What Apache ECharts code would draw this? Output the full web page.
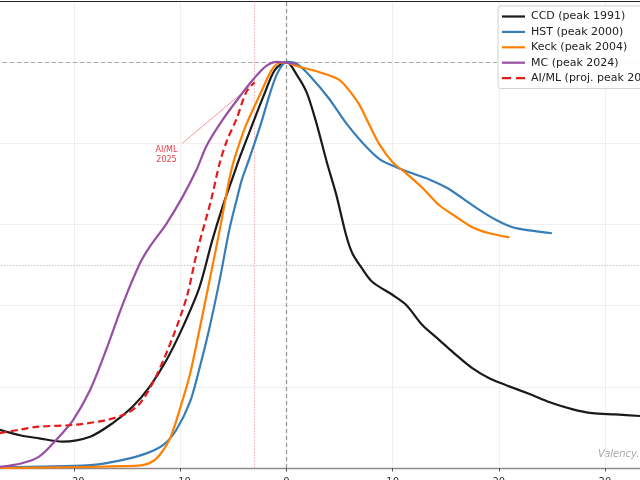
<!DOCTYPE html>
<html>
<head>
<meta charset="utf-8">
<script src="https://cdn.jsdelivr.net/npm/echarts@6/dist/echarts.min.js"></script>
<style>
  html, body { margin: 0; padding: 0; background: #fff; overflow: hidden; }
  /* the plot is cut on the left, so the canvas starts a bit off-screen */
  #chart { width: 672px; height: 480px; margin-left: -32px; }
</style>
</head>
<body>
<div id="chart"></div>
<script>
// years relative to peak, normalised share of papers
const ccdX = [-27, -25, -23.3, -21.1, -18.5, -16.4, -14.5, -12.9, -11.3, -9.8, -8.2, -7, -6, -5, -4.4, -3.3, -2.1, -1.1, 0, 1, 1.9, 2.8, 3.8, 4.7, 5.6, 6.2, 7.1, 8.1, 10, 11.3, 12.8, 14.4, 16, 17.5, 19.1, 20.7, 22.9, 24.8, 26.9, 28.8, 31, 33.3];
const ccdY = [0.094, 0.08, 0.073, 0.065, 0.077, 0.11, 0.151, 0.2, 0.266, 0.345, 0.445, 0.56, 0.645, 0.72, 0.765, 0.84, 0.92, 0.98, 1.0, 0.967, 0.925, 0.851, 0.753, 0.672, 0.575, 0.529, 0.492, 0.458, 0.426, 0.401, 0.352, 0.315, 0.278, 0.246, 0.221, 0.204, 0.182, 0.162, 0.145, 0.135, 0.132, 0.128];

const hstX = [-27, -18.5, -15.4, -13.2, -11.6, -10.4, -9.1, -8.2, -7.3, -6.3, -5.4, -4.7, -4.2, -3.5, -2.5, -1.4, -0.7, 0, 1, 2.4, 4, 5.6, 7.2, 8.8, 10.4, 11.9, 13.5, 15.1, 16.6, 18.2, 19.8, 21.3, 22.9, 25];
const hstY = [0.002, 0.007, 0.02, 0.036, 0.057, 0.093, 0.162, 0.245, 0.34, 0.462, 0.585, 0.66, 0.71, 0.762, 0.84, 0.935, 0.98, 1.0, 0.995, 0.96, 0.91, 0.85, 0.80, 0.76, 0.74, 0.725, 0.71, 0.69, 0.664, 0.635, 0.61, 0.593, 0.585, 0.578];

const keckX = [-27, -14.2, -12.9, -12, -11, -10.1, -9.1, -8.2, -7.3, -6.3, -5.8, -5.4, -4.9, -3.8, -2.4, -1.4, -0.6, 0, 0.9, 2.4, 4, 5, 5.9, 6.9, 7.8, 8.8, 10, 11.3, 12.8, 14.4, 16, 17.5, 19.1, 21];
const keckY = [0.0, 0.005, 0.012, 0.03, 0.071, 0.14, 0.23, 0.34, 0.455, 0.585, 0.655, 0.71, 0.762, 0.845, 0.925, 0.98, 0.998, 0.998, 0.99, 0.98, 0.967, 0.955, 0.93, 0.893, 0.845, 0.795, 0.753, 0.725, 0.69, 0.647, 0.618, 0.593, 0.578, 0.568];

const mcX = [-27, -25, -23.3, -21.7, -20.1, -18.5, -17, -15.4, -13.8, -12.9, -11.3, -9.8, -8.5, -7.5, -6, -4.2, -3.2, -1.9, -0.9, 0, 1];
const mcY = [0.003, 0.011, 0.028, 0.069, 0.118, 0.192, 0.29, 0.405, 0.504, 0.544, 0.602, 0.667, 0.733, 0.795, 0.858, 0.922, 0.955, 0.99, 1.0, 0.998, 0.995];

const aiX = [-27, -25, -23.3, -20.1, -17, -15.1, -13.8, -12.3, -10.7, -9.4, -8.4, -7.1, -6.3, -5.6, -4.7, -3.8, -3.0];
const aiY = [0.086, 0.095, 0.102, 0.106, 0.118, 0.134, 0.159, 0.225, 0.323, 0.421, 0.535, 0.66, 0.75, 0.807, 0.86, 0.925, 0.95];

const names = ['CCD (peak 1991)', 'HST (peak 2000)', 'Keck (peak 2004)', 'MC (peak 2024)', 'AI/ML (proj. peak 2025)'];
const colors = ['#1a1a1a', '#377eb8', '#ff7f00', '#984ea3', '#e41a1c'];

const peakLine = 1.0;
const halfLine = 0.5;
const nowLine = -3;
const annotFrom = [-9.8, 0.80];
const annotTo = [-3.2, 0.945];
const annotAt = [-11.3, 0.77];

const zip = (xs, ys) => xs.map((x, i) => [x, ys[i]]);
const font = 'DejaVu Sans';

// legend swatches: a plain bar, and two dashes for the projection
const solidIcon = 'path://M0,0h23v2h-23z';
const dashIcon = 'path://M0,0h9v2h-9z M14,0h9v2h-9z';

const curve = (i, xs, ys, extra) => Object.assign({
    name: names[i],
    type: 'line',
    data: zip(xs, ys),
    showSymbol: false,
    symbol: 'none',
    smooth: 0.3,
    z: 3 + i,
    lineStyle: { color: colors[i], width: 2.2 },
    itemStyle: { color: colors[i] }
}, extra || {});

const chart = echarts.init(document.getElementById('chart'));
chart.setOption({
    animation: false,
    grid: { left: 0, right: 0, top: 1, bottom: 12, outerBoundsMode: 'none', containLabel: false },
    xAxis: [{
        type: 'value', min: -30, max: 33.3, interval: 10,
        axisLine: { show: true, lineStyle: { color: '#8c8c8c', width: 1.4 } },
        axisTick: { show: true, length: 3.5, lineStyle: { color: '#555' } },
        axisLabel: {
            margin: 9, fontSize: 10, fontFamily: font, color: '#333',
            showMinLabel: false, showMaxLabel: false,
            formatter: v => String(v).replace('-', '\u2212')
        },
        splitLine: { show: true, lineStyle: { color: '#ebebeb', width: 0.8 } }
    }, {
        type: 'value', position: 'top', min: -30, max: 33.3,
        axisLine: { show: true, onZero: false, lineStyle: { color: '#222', width: 1.2 } },
        axisTick: { show: false }, axisLabel: { show: false }, splitLine: { show: false }
    }],
    yAxis: {
        type: 'value', min: 0, max: 1.15, interval: 0.2,
        axisLine: { show: false }, axisTick: { show: false }, axisLabel: { show: false },
        splitLine: { show: true, lineStyle: { color: '#ebebeb', width: 0.8 } }
    },
    legend: {
        orient: 'vertical', left: 530, top: 6, z: 20,
        padding: [5, 5, 5, 4], itemGap: 4.4, itemWidth: 23, itemHeight: 2.2,
        symbolKeepAspect: false,
        backgroundColor: 'rgba(255,255,255,0.92)',
        borderColor: '#d0d0d0', borderWidth: 1, borderRadius: 3,
        textStyle: { fontFamily: font, fontSize: 11, color: '#222', padding: [0, 0, 0, 1] },
        data: names.map((n, i) => ({ name: n, icon: i === 4 ? dashIcon : solidIcon }))
    },
    series: [
        {
            type: 'line', data: [], z: 1, silent: true,
            markLine: {
                silent: true, symbol: 'none', animation: false, z: 1,
                label: { show: false },
                data: [
                    { yAxis: peakLine, lineStyle: { color: '#aaa', type: [4, 3], width: 1.2 } },
                    { yAxis: halfLine, lineStyle: { color: '#c4c4c4', type: [1.5, 1.5], width: 1 } },
                    { xAxis: 0, lineStyle: { color: '#9a9a9a', type: [4, 3], width: 1.3 } },
                    { xAxis: nowLine, lineStyle: { color: '#f2a0a8', type: [1.5, 1.5], width: 0.9 } }
                ]
            }
        },
        curve(0, ccdX, ccdY),
        curve(1, hstX, hstY),
        curve(2, keckX, keckY),
        curve(3, mcX, mcY),
        curve(4, aiX, aiY, {
            lineStyle: { color: colors[4], width: 2.2, type: [7, 4] },
            markLine: {
                silent: true, symbol: 'none', animation: false,
                label: { show: false },
                lineStyle: { color: '#f07a80', type: 'solid', width: 0.8 },
                data: [[{ coord: annotFrom }, { coord: annotTo }]]
            },
            markPoint: {
                silent: true, symbol: 'circle', symbolSize: 0, animation: false,
                label: {
                    show: true, position: 'inside', formatter: 'AI/ML\n2025',
                    fontFamily: font, fontSize: 8, lineHeight: 10, color: '#e0404a'
                },
                data: [{ coord: annotAt }]
            }
        })
    ],
    graphic: [{
        type: 'text', left: 630, top: 449, silent: true,
        style: { text: 'Valency.io', fontFamily: font, fontSize: 10, fontStyle: 'italic', fill: '#a8a8a8' }
    }]
});
</script>
</body>
</html>
